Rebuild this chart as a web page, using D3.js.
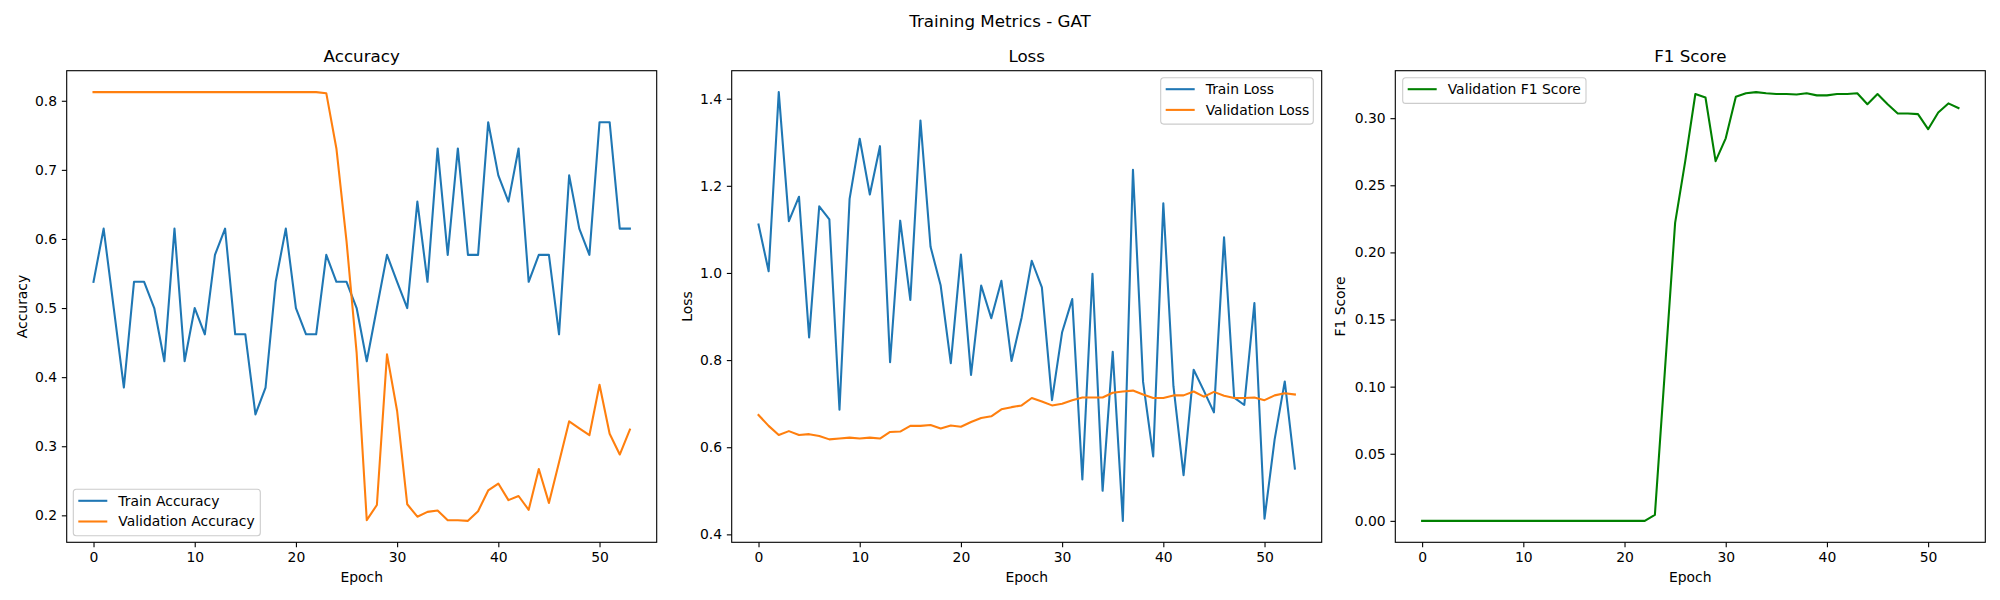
<!doctype html>
<meta charset="utf-8">
<style>
body {
  margin: 0px;
  padding: 0px;
  background: white;
}
svg text {
  font-family: "DejaVu Sans", sans-serif;
  fill: black;
}
</style>
<script src="https://cdn.jsdelivr.net/npm/d3@7"></script>
<div id="chart"></div>

<script>
// values, one per epoch (0..53)
var trainAcc = [0.538, 0.615, 0.500, 0.385, 0.538, 0.538, 0.500, 0.423, 0.615, 0.423,
  0.500, 0.462, 0.577, 0.615, 0.462, 0.462, 0.346, 0.385, 0.538, 0.615,
  0.500, 0.462, 0.462, 0.577, 0.538, 0.538, 0.500, 0.423, 0.500, 0.577,
  0.538, 0.500, 0.654, 0.538, 0.731, 0.577, 0.731, 0.577, 0.577, 0.769,
  0.692, 0.654, 0.731, 0.538, 0.577, 0.577, 0.462, 0.692, 0.615, 0.577,
  0.769, 0.769, 0.615, 0.615];
var valAcc = [0.8125, 0.8125, 0.8125, 0.8125, 0.8125, 0.8125, 0.8125, 0.8125, 0.8125, 0.8125,
  0.8125, 0.8125, 0.8125, 0.8125, 0.8125, 0.8125, 0.8125, 0.8125, 0.8125, 0.8125,
  0.8125, 0.8125, 0.8125, 0.811, 0.731, 0.597, 0.435, 0.193, 0.215, 0.433,
  0.351, 0.216, 0.198, 0.205, 0.207, 0.193, 0.193, 0.192, 0.206, 0.236,
  0.246, 0.222, 0.228, 0.208, 0.267, 0.218, 0.277, 0.336, 0.326, 0.316,
  0.389, 0.318, 0.288, 0.324];
var trainLoss = [1.111, 1.004, 1.415, 1.119, 1.175, 0.852, 1.153, 1.123, 0.686, 1.170,
  1.308, 1.180, 1.291, 0.795, 1.120, 0.938, 1.350, 1.060, 0.971, 0.793,
  1.042, 0.766, 0.971, 0.896, 0.982, 0.798, 0.898, 1.028, 0.967, 0.708,
  0.864, 0.940, 0.526, 0.998, 0.500, 0.819, 0.431, 1.237, 0.750, 0.579,
  1.160, 0.740, 0.536, 0.778, 0.730, 0.680, 1.082, 0.714, 0.697, 0.931,
  0.436, 0.618, 0.751, 0.551];
var valLoss = [0.674, 0.649, 0.628, 0.637, 0.628, 0.630, 0.626, 0.618, 0.620, 0.622,
  0.620, 0.622, 0.620, 0.635, 0.636, 0.649, 0.649, 0.651, 0.643, 0.650,
  0.647, 0.658, 0.667, 0.671, 0.687, 0.692, 0.696, 0.713, 0.705, 0.696,
  0.700, 0.708, 0.714, 0.714, 0.714, 0.725, 0.728, 0.730, 0.721, 0.713,
  0.713, 0.719, 0.719, 0.728, 0.716, 0.727, 0.718, 0.713, 0.713, 0.714,
  0.708, 0.719, 0.724, 0.721];
var valF1 = [0, 0, 0, 0, 0, 0, 0, 0, 0, 0,
  0, 0, 0, 0, 0, 0, 0, 0, 0, 0,
  0, 0, 0, 0.0045, 0.113, 0.222, 0.268, 0.318, 0.3154, 0.268,
  0.285, 0.316, 0.3186, 0.3194, 0.3186, 0.318, 0.318, 0.3176, 0.3186, 0.317,
  0.317, 0.318, 0.318, 0.3186, 0.3104, 0.318, 0.3104, 0.3035, 0.3035, 0.303,
  0.2918, 0.3042, 0.311, 0.3075];

var xTicks = [0, 10, 20, 30, 40, 50];
var accTicks = [0.2, 0.3, 0.4, 0.5, 0.6, 0.7, 0.8];
var lossTicks = [0.4, 0.6, 0.8, 1.0, 1.2, 1.4];
var f1Ticks = [0.00, 0.05, 0.10, 0.15, 0.20, 0.25, 0.30];

var W = 2000, H = 600;
var top_ = 70.7, bottom = 542.3, pw = 590;
var fs = 13.9;

var svg = d3.select("#chart").append("svg")
    .attr("width", W)
    .attr("height", H);

svg.append("rect").attr("width", W).attr("height", H).attr("fill", "white");

svg.append("text")
    .attr("x", W / 2)
    .attr("y", 27)
    .attr("text-anchor", "middle")
    .style("font-size", "16.7px")
    .text("Training Metrics - GAT");

// matplotlib style 5% margins
var padded = function(ext) {
  var m = (ext[1] - ext[0]) * 0.05;
  return [ext[0] - m, ext[1] + m];
}

var panel = function(p) {
  var g = svg.append("g");
  var n = p.series[0].values.length;
  var x = d3.scaleLinear()
      .domain(padded([0, n - 1]))
      .range([p.left, p.left + pw]);
  var all = [];
  p.series.forEach(function(s) { all = all.concat(s.values); });
  var y = d3.scaleLinear()
      .domain(padded(d3.extent(all)))
      .range([bottom, top_]);

  var line = d3.line()
      .x(function(d, i) { return x(i); })
      .y(function(d) { return y(d); });

  p.series.forEach(function(s) {
    g.append("path")
        .datum(s.values)
        .attr("d", line)
        .attr("fill", "none")
        .attr("stroke", s.color)
        .attr("stroke-width", 2.08)
        .attr("stroke-linejoin", "round")
        .attr("stroke-linecap", "square");
  });

  var xAxis = g.append("g")
      .attr("transform", "translate(0," + bottom + ")")
      .call(d3.axisBottom(x).tickValues(xTicks).tickFormat(d3.format("d"))
        .tickSize(4.86).tickPadding(4.86).tickSizeOuter(0));
  var yAxis = g.append("g")
      .attr("transform", "translate(" + p.left + ",0)")
      .call(d3.axisLeft(y).tickValues(p.ticks).tickFormat(d3.format(p.fmt))
        .tickSize(4.86).tickPadding(4.86).tickSizeOuter(0));
  [xAxis, yAxis].forEach(function(a) {
    a.select(".domain").remove();
    a.selectAll("line").attr("stroke", "black").attr("stroke-width", 1.1);
    a.selectAll("text")
        .style("font-size", fs + "px")
        .style("font-family", "DejaVu Sans")
        .attr("fill", "black");
  });

  g.append("rect")
      .attr("x", p.left)
      .attr("y", top_)
      .attr("width", pw)
      .attr("height", bottom - top_)
      .attr("fill", "none")
      .attr("stroke", "black")
      .attr("stroke-width", 1.1);

  g.append("text")
      .attr("x", p.left + pw / 2)
      .attr("y", top_ - 8.5)
      .attr("text-anchor", "middle")
      .style("font-size", "16.7px")
      .text(p.title);

  g.append("text")
      .attr("x", p.left + pw / 2)
      .attr("y", 582)
      .attr("text-anchor", "middle")
      .style("font-size", fs + "px")
      .text("Epoch");

  var ly = (top_ + bottom) / 2;
  g.append("text")
      .attr("transform", "translate(" + (p.left - p.ylabOff) + "," + ly + ") rotate(-90)")
      .attr("text-anchor", "middle")
      .attr("dominant-baseline", "central")
      .style("font-size", fs + "px")
      .text(p.ylabel);

  // legend
  var lg = g.append("g").attr("transform", "translate(" + p.legend[0] + "," + p.legend[1] + ")");
  var rowH = 20.7;
  var boxW = p.legendW, boxH = 4.5 + p.series.length * rowH + 0.5;
  lg.append("rect")
      .attr("width", boxW)
      .attr("height", boxH)
      .attr("rx", 3)
      .attr("fill", "white")
      .attr("fill-opacity", 0.8)
      .attr("stroke", "#cccccc")
      .attr("stroke-width", 1.1);
  p.series.forEach(function(s, i) {
    var cy = 11.5 + i * rowH;
    lg.append("line")
        .attr("x1", 5)
        .attr("x2", 34)
        .attr("y1", cy)
        .attr("y2", cy)
        .attr("stroke", s.color)
        .attr("stroke-width", 2.08);
    lg.append("text")
        .attr("x", 45)
        .attr("y", cy)
        .attr("dominant-baseline", "central")
        .style("font-size", fs + "px")
        .text(s.label);
  });
}

panel({
  left: 66.7, title: "Accuracy", ylabel: "Accuracy", ylabOff: 45,
  ticks: accTicks, fmt: ".1f",
  legend: [73.3, 489.3], legendW: 187,
  series: [
    {values: trainAcc, color: "#1f77b4", label: "Train Accuracy"},
    {values: valAcc, color: "#ff7f0e", label: "Validation Accuracy"}
  ]
});

panel({
  left: 731.7, title: "Loss", ylabel: "Loss", ylabOff: 45,
  ticks: lossTicks, fmt: ".1f",
  legend: [1160.7, 77.7], legendW: 152.6,
  series: [
    {values: trainLoss, color: "#1f77b4", label: "Train Loss"},
    {values: valLoss, color: "#ff7f0e", label: "Validation Loss"}
  ]
});

panel({
  left: 1395.3, title: "F1 Score", ylabel: "F1 Score", ylabOff: 55,
  ticks: f1Ticks, fmt: ".2f",
  legend: [1402.7, 77.7], legendW: 183.3,
  series: [
    {values: valF1, color: "green", label: "Validation F1 Score"}
  ]
});
</script>
